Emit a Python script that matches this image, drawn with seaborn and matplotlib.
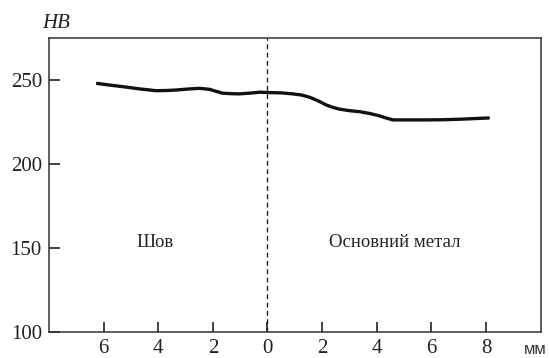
import numpy as np
import pandas as pd
import seaborn as sns
from matplotlib import pyplot as plt

# distance from fusion line, mm (negative = weld side)
distance = [-6.27, -5.8, -5.30, -4.7, -4.08, -3.7, -3.34, -2.9, -2.49, -2.12, -1.9,
            -1.64, -1.3, -1.03, -0.6, -0.29, 0.0, 0.5, 0.93, 1.25, 1.54, 1.85,
            2.15, 2.4, 2.64, 3.0, 3.37, 3.75, 4.10, 4.35, 4.59, 5.2, 5.81,
            6.4, 7.03, 7.6, 8.13]
hardness = [248.0, 247.0, 246.0, 244.7, 243.6, 243.7, 244.0, 244.6, 245.0, 244.4, 243.3,
            242.1, 241.8, 241.7, 242.2, 242.7, 242.5, 242.3, 241.7, 241.0, 239.7, 237.6,
            235.1, 233.6, 232.6, 231.7, 231.1, 230.0, 228.6, 227.3, 226.2, 226.2, 226.2,
            226.3, 226.6, 227.0, 227.4]

x_ticks = [-6, -4, -2, 0, 2, 4, 6, 8]
x_tick_labels = ['6', '4', '2', '0', '2', '4', '6', '8']
y_ticks = [100, 150, 200, 250]

df = pd.DataFrame({'distance': distance, 'hardness': hardness})

sns.set_style('ticks')
plt.rcParams['font.family'] = ['Liberation Serif', 'DejaVu Serif']

fig, ax = plt.subplots(figsize=(5.49, 3.58), dpi=100)
fig.subplots_adjust(left=0.089, right=0.985, top=0.894, bottom=0.073)

sns.lineplot(data=df, x='distance', y='hardness', ax=ax, color='#111111',
             linewidth=2.4, solid_joinstyle='round', solid_capstyle='butt')
ax.axvline(0, color='#222222', linestyle=(0, (3.5, 2.5)), linewidth=1.0)

ax.set_xlim(-8, 10)
ax.set_ylim(100, 275)
ax.set_xticks(x_ticks)
ax.set_xticklabels(x_tick_labels)
ax.set_yticks(y_ticks)
ax.tick_params(direction='in', length=7, width=1.2, labelsize=15, colors='#222222', pad=5)
ax.tick_params(axis='y', length=8)
for s in ax.spines.values():
    s.set_color('#333333')
    s.set_linewidth(1.1)
ax.set_xlabel('')
ax.set_ylabel('')

ax.text(-4.1, 153, 'Шов', fontsize=13.5, ha='center', va='center', color='#222222')
ax.text(4.65, 153, 'Основний метал', fontsize=13.5, ha='center', va='center', color='#222222')
fig.text(0.076, 0.922, 'HB', fontsize=15, style='italic', ha='left', va='baseline', color='#222222')
fig.text(0.995, 0.012, 'мм', fontsize=12, family='Liberation Sans', ha='right',
         va='baseline', color='#333333')

plt.savefig('out.png', dpi=100)
